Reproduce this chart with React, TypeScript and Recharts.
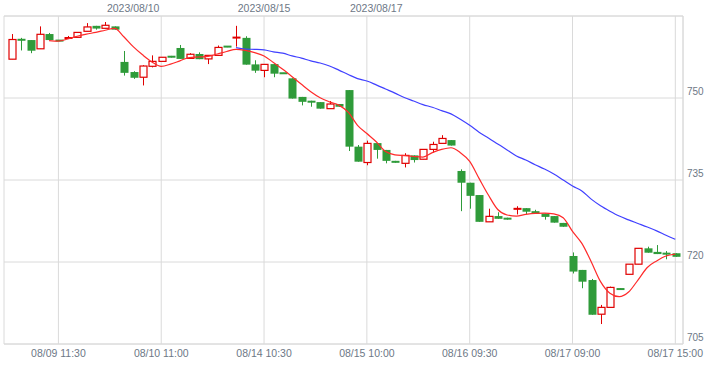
import { Bar, CartesianGrid, ComposedChart, Line, XAxis, YAxis } from "recharts";

const days = ["08/09", "08/10", "08/14", "08/15", "08/16", "08/17"];
const sessions = ["09:00", "09:30", "10:00", "10:30", "11:00", "11:30", "12:30", "13:00", "13:30", "14:00", "14:30", "15:00"];
const times = days.flatMap((d) => sessions.map((s) => `${d} ${s}`));

const opens = [
  757.1, 760.8, 760.6, 759.0, 761.7, 760.6, 760.8, 761.1, 762.2, 763.2, 762.75, 763.1,
  756.6, 754.75, 753.8, 755.8, 756.7, 757.7, 759.15, 757.25, 758.05, 757.15, 757.8, 759.5,
  761.0, 761.0, 756.15, 755.05, 756.2, 754.6, 753.6, 750.2, 749.5, 749.25, 748.05, 748.9,
  751.45, 741.1, 738.2, 741.75, 740.5, 738.5, 738.05, 739.5, 738.8, 740.6, 741.7, 742.3,
  736.65, 734.5, 732.25, 727.35, 728.4, 728.1, 729.6, 729.85, 729.3, 728.85, 728.4, 727.15,
  721.1, 718.55, 716.7, 710.45, 711.7, 715.2, 717.75, 719.6, 722.5, 721.85, 721.7, 721.6,
];
const closes = [
  760.7, 760.5, 758.65, 761.65, 760.6, 760.4, 761.15, 762.0, 763.0, 762.7, 763.3, 762.5,
  754.6, 753.7, 755.85, 756.7, 757.45, 757.4, 757.15, 758.0, 757.1, 757.8, 759.25, 759.3,
  761.1, 756.1, 755.0, 756.15, 754.45, 754.45, 749.9, 749.3, 749.15, 748.05, 748.9, 748.4,
  741.1, 738.35, 741.7, 740.5, 738.5, 738.15, 739.5, 738.65, 740.6, 741.5, 742.6, 741.3,
  734.5, 732.1, 727.35, 728.35, 727.9, 727.75, 729.85, 729.2, 728.8, 728.25, 727.2, 726.45,
  718.25, 716.4, 710.35, 711.7, 715.35, 714.9, 719.6, 722.5, 721.7, 721.45, 721.35, 720.95,
];
const highs = [
  761.7, 761.0, 760.6, 763.1, 761.9, 760.6, 761.35, 762.0, 763.7, 763.2, 763.9, 763.1,
  758.6, 754.9, 756.0, 757.8, 757.45, 757.7, 759.7, 758.2, 758.35, 757.8, 759.6, 759.5,
  763.2, 761.3, 756.9, 756.15, 756.2, 754.6, 753.6, 750.2, 749.5, 749.25, 749.45, 748.9,
  751.45, 741.4, 742.2, 741.75, 740.5, 738.5, 739.9, 739.5, 740.6, 742.0, 743.2, 742.3,
  736.95, 734.5, 732.25, 729.75, 729.1, 728.1, 730.2, 729.85, 729.55, 728.85, 728.4, 727.15,
  721.75, 718.55, 716.9, 712.15, 715.5, 715.2, 719.6, 722.5, 722.8, 723.1, 722.0, 721.6,
];
const lows = [
  757.1, 758.7, 758.2, 759.0, 760.6, 760.4, 760.8, 761.1, 762.2, 762.5, 762.75, 762.5,
  754.1, 753.5, 752.3, 755.6, 756.7, 757.4, 757.15, 757.25, 757.1, 756.2, 757.8, 759.3,
  759.4, 756.1, 754.6, 753.8, 753.8, 754.45, 749.9, 748.65, 748.4, 748.05, 748.05, 748.4,
  740.3, 738.35, 737.7, 738.9, 738.05, 738.15, 737.3, 738.2, 738.8, 740.0, 741.7, 741.3,
  729.3, 729.75, 727.35, 727.35, 727.9, 727.75, 728.7, 728.75, 728.8, 727.75, 727.2, 726.45,
  717.9, 715.2, 710.35, 708.65, 711.7, 714.9, 717.75, 719.6, 721.7, 721.45, 720.5, 720.95,
];
const ma5 = [
  null, null, null, null, 760.5, 760.4, 760.8, 761.3, 761.7, 762.0, 762.4, 762.75,
  761.2, 759.4, 757.9, 756.6, 755.8, 756.2, 756.8, 757.4, 757.5, 757.6, 758.05, 758.5,
  758.9, 758.7, 758.3, 757.7, 756.5, 755.25, 753.9, 752.5, 751.15, 750.05, 749.3, 748.7,
  747.4, 745.0, 743.5, 742.0, 740.2, 739.6, 739.45, 739.3, 739.2, 740.0, 740.6, 740.9,
  740.0, 738.4, 735.3, 732.25, 729.6, 728.6, 728.4, 728.7, 728.9, 728.95, 728.8, 728.1,
  725.6, 723.4, 720.05, 716.4, 714.3, 713.65, 714.5, 716.7, 719.0, 720.2, 721.1, 721.45,
];
const ma25 = [
  null, null, null, null, null, null, null, null, null, null, null, null,
  null, null, null, null, null, null, null, null, null, null, null, null,
  759.2, 758.95, 758.9, 758.8, 758.45, 758.2, 757.7, 757.3, 756.8, 756.4, 755.85, 755.1,
  754.3, 753.55, 753.1, 752.4, 751.65, 750.9, 750.1, 749.45, 748.8, 748.3, 747.7, 747.1,
  746.1, 745.0, 743.75, 742.7, 741.6, 740.5, 739.4, 738.65, 737.8, 737.0, 736.1, 735.0,
  733.9, 733.0, 731.5, 730.3, 729.3, 728.4, 727.7, 727.05, 726.4, 725.7, 724.9, 724.15,
];

const bottomTicks = ["08/09 11:30", "08/10 11:00", "08/14 10:30", "08/15 10:00", "08/16 09:30", "08/17 09:00", "08/17 15:00"];
const topTicks = ["08/10 09:30", "08/14 10:30", "08/15 10:30"];
const topLabels = ["2023/08/10", "2023/08/15", "2023/08/17"];
const priceTicks = [705, 720, 735, 750];

const data = times.map((t, i) => ({
  t,
  open: opens[i],
  close: closes[i],
  high: highs[i],
  low: lows[i],
  ma5: ma5[i],
  ma25: ma25[i],
}));

const UP = "#e00000";
const DOWN = "#2f9b3a";
const GRID = "#dadada";
const TEXT = "#6d7886";

function Candle(props: any) {
  const { x, y, width, height, payload } = props;
  const { open, close, high, low } = payload;
  const cx = Math.round(x + width / 2) + 0.5;
  const k = height / (high - low || 1);
  const yOf = (v: number) => y + (high - v) * k;
  const top = yOf(Math.max(open, close));
  const bot = yOf(Math.min(open, close));
  const up = close >= open;
  const color = up ? UP : DOWN;
  const bh = bot - top;
  const left = cx - 4;
  return (
    <g>
      <line x1={cx} x2={cx} y1={y} y2={y + height} stroke={color} strokeWidth={1} />
      {up && bh >= 3 ? (
        <rect x={left + 0.5} y={top} width={7} height={bh} fill="#fff" stroke={color} strokeWidth={1.2} />
      ) : (
        <rect x={left} y={bh < 2 ? (top + bot) / 2 - 1 : top} width={8} height={Math.max(bh, 2)} fill={color} />
      )}
    </g>
  );
}

export default function App() {
  return (
    <div style={{ position: "absolute", left: 0, top: 0, fontFamily: "'Liberation Sans', Arial, sans-serif" }}>
      <ComposedChart width={724} height={370} data={data} margin={{ top: 0, right: 0, bottom: 0, left: 4 }}>
        <CartesianGrid xAxisId="b" yAxisId="r" stroke={GRID} ticks={priceTicks} />
        <XAxis
          xAxisId="b"
          dataKey="t"
          ticks={bottomTicks}
          interval={0}
          height={26}
          tickLine={false}
          tickSize={0}
          tickMargin={6}
          axisLine={{ stroke: GRID }}
          padding={{ left: 3, right: 3 }}
          tick={{ fontSize: 10.5, fill: TEXT }}
        />
        <XAxis
          xAxisId="t"
          dataKey="t"
          orientation="top"
          ticks={topTicks}
          interval={0}
          height={16}
          tickLine={false}
          tickSize={0}
          tickMargin={4}
          axisLine={{ stroke: GRID }}
          padding={{ left: 3, right: 3 }}
          tickFormatter={(v: string) => topLabels[topTicks.indexOf(v)] ?? ""}
          tick={{ fontSize: 10.5, fill: TEXT }}
        />
        <YAxis yAxisId="l" orientation="left" width={0} domain={[705, 765]} tick={false} tickLine={false} axisLine={{ stroke: GRID }} />
        <YAxis
          yAxisId="r"
          orientation="right"
          width={41}
          domain={[705, 765]}
          ticks={priceTicks}
          interval={0}
          tickLine={false}
          tickSize={0}
          tickMargin={4}
          axisLine={{ stroke: GRID }}
          tick={{ fontSize: 10, fill: TEXT, textAnchor: "start", dy: -6.5 }}
        />
        <Bar
          xAxisId="b"
          yAxisId="r"
          dataKey={(d: any) => [d.low, d.high]}
          barSize={8}
          shape={(p: any) => <Candle {...p} />}
          isAnimationActive={false}
        />
        <Line xAxisId="b" yAxisId="r" type="monotone" dataKey="ma25" stroke="#4040ff" strokeWidth={1.2} dot={false} isAnimationActive={false} />
        <Line xAxisId="b" yAxisId="r" type="monotone" dataKey="ma5" stroke="#ff2a2a" strokeWidth={1.2} dot={false} isAnimationActive={false} />
      </ComposedChart>
    </div>
  );
}
